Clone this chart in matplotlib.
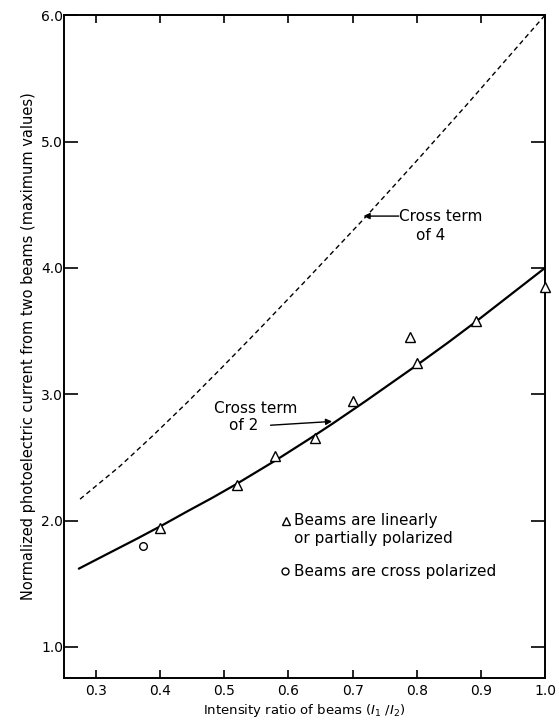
import matplotlib
matplotlib.use("Agg")
import matplotlib.pyplot as plt

# Curves
solid_x = [0.272, 0.317, 0.363, 0.402, 0.441, 0.481, 0.519, 0.581, 0.632, 0.668, 0.720, 0.800, 0.849, 0.891, 1.0]
solid_y = [1.617, 1.735, 1.855, 1.96, 2.07, 2.18, 2.29, 2.48, 2.645, 2.765, 2.945, 3.23, 3.41, 3.57, 4.0]
dashed_x = [0.275, 0.337, 0.388, 0.441, 0.492, 0.542, 0.562, 0.627, 0.679, 0.717, 0.761, 0.803, 0.876, 1.0]
dashed_y = [2.17, 2.43, 2.67, 2.93, 3.19, 3.45, 3.555, 3.90, 4.18, 4.385, 4.63, 4.865, 5.28, 6.0]

# Measured points
tri_x = [0.40, 0.519, 0.579, 0.641, 0.700, 0.790, 0.800, 0.893, 1.0]
tri_y = [1.945, 2.285, 2.51, 2.65, 2.95, 3.45, 3.25, 3.58, 3.85]
circ_x = [0.373]
circ_y = [1.80]

xticks = [0.3, 0.4, 0.5, 0.6, 0.7, 0.8, 0.9, 1.0]
xticklabels = ["0.3", "0.4", "0.5", "0.6", "0.7", "0.8", "0.9", "1.0"]
yticks = [1.0, 2.0, 3.0, 4.0, 5.0, 6.0]
yticklabels = ["1.0", "2.0", "3.0", "4.0", "5.0", "6.0"]

plt.rcParams['font.family'] = ['DejaVu Sans']

fig = plt.figure(figsize=(5.59, 7.22), dpi=100)
ax = fig.add_axes([0.1145, 0.061, 0.975 - 0.1145, 0.979 - 0.061])

ax.plot(solid_x, solid_y, color='black', lw=1.6, solid_capstyle='butt', solid_joinstyle='round')
ax.plot(dashed_x, dashed_y, color='black', lw=1.0, dashes=(3.5, 2.5))
ax.plot(tri_x, tri_y, linestyle='none', marker='^', ms=7, mfc='white', mec='black', mew=1.0, clip_on=False, zorder=5)
ax.plot(circ_x, circ_y, linestyle='none', marker='o', ms=5.5, mfc='white', mec='black', mew=1.0, zorder=5)

ax.set_xlim(0.25, 1.0)
ax.set_ylim(0.755, 6.0)

ax.set_xticks(xticks)
ax.set_xticklabels(xticklabels, fontsize=10)
ax.set_yticks(yticks)
ax.set_yticklabels(yticklabels, fontsize=10)
ax.tick_params(axis='x', direction='in', length=6, width=1.2, top=True, pad=4)
ax.tick_params(axis='y', direction='in', length=10, width=1.2, right=True, pad=0.5)
for s in ax.spines.values():
    s.set_linewidth(1.4)

ax.set_xlabel("Intensity ratio of beams ($I_1$ /$I_2$)", fontsize=9.5, labelpad=3)
ax.set_ylabel("Normalized photoelectric current from two beams (maximum values)", fontsize=10.5, labelpad=4)

fs = 11
# Annotations
ax.annotate("", xy=(0.717, 4.41), xytext=(0.772, 4.41),
            arrowprops=dict(arrowstyle='-|>', color='black', lw=1.0, mutation_scale=9, shrinkA=0, shrinkB=0))
ax.text(0.773, 4.41, "Cross term", fontsize=fs, ha='left', va='center')
ax.text(0.822, 4.26, "of 4", fontsize=fs, ha='center', va='center')

ax.text(0.484, 2.89, "Cross term", fontsize=fs, ha='left', va='center')
ax.text(0.530, 2.75, "of 2", fontsize=fs, ha='center', va='center')
ax.annotate("", xy=(0.668, 2.785), xytext=(0.572, 2.755),
            arrowprops=dict(arrowstyle='-|>', color='black', lw=1.0, mutation_scale=9, shrinkA=0, shrinkB=0))

# Legend-like key
ax.plot([0.596], [2.0], linestyle='none', marker='^', ms=6, mfc='white', mec='black', mew=1.0)
ax.text(0.609, 2.0, "Beams are linearly", fontsize=fs, ha='left', va='center')
ax.text(0.609, 1.86, "or partially polarized", fontsize=fs, ha='left', va='center')
ax.plot([0.595], [1.60], linestyle='none', marker='o', ms=5, mfc='white', mec='black', mew=1.0)
ax.text(0.609, 1.60, "Beams are cross polarized", fontsize=fs, ha='left', va='center')

fig.savefig("out.png", dpi=100)
